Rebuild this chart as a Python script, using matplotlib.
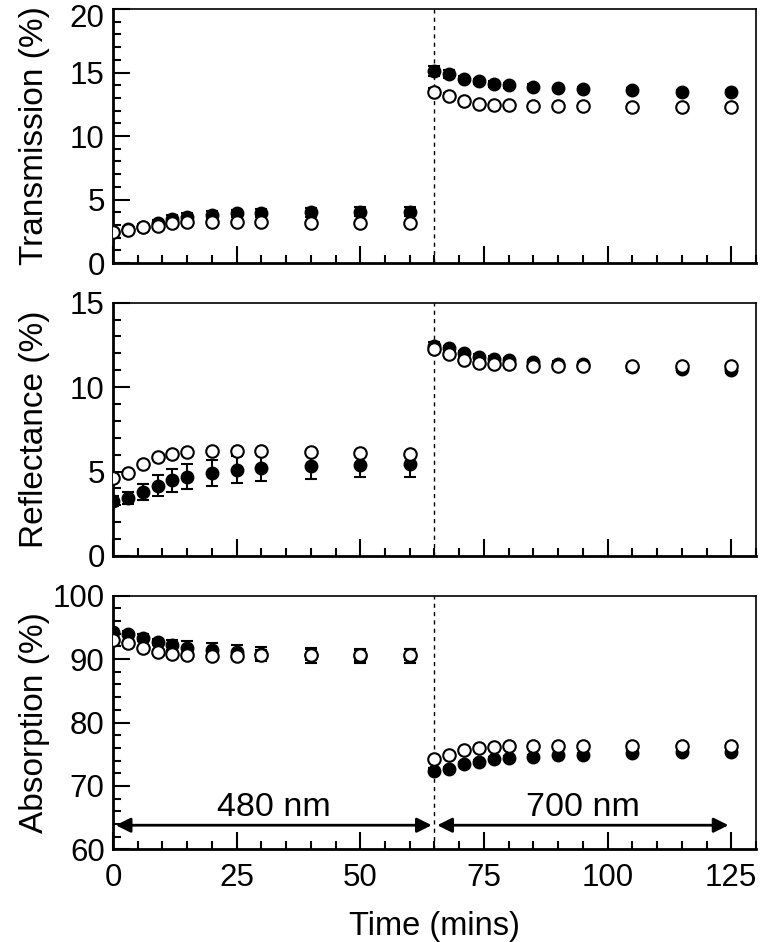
import matplotlib
matplotlib.use('Agg')
import matplotlib.pyplot as plt
from matplotlib.ticker import MultipleLocator
from matplotlib.transforms import ScaledTranslation
import numpy as np

plt.rcParams['font.family'] = ['Liberation Sans', 'DejaVu Sans']

# tiempos (min)
time = [0, 3, 6, 9, 12, 15, 20, 25, 30, 40, 50, 60,
        65, 68, 71, 74, 77, 80, 85, 90, 95, 105, 115, 125]

# Transmision
trans_fill = [2.45, 2.65, 2.85, 3.15, 3.45, 3.6, 3.8, 3.9, 3.95, 4.0, 4.05, 4.05,
              15.15, 14.9, 14.5, 14.3, 14.1, 14.0, 13.9, 13.75, 13.7, 13.6, 13.5, 13.45]
trans_fill_err = [0.1, 0.15, 0.2, 0.25, 0.3, 0.3, 0.3, 0.3, 0.3, 0.35, 0.35, 0.35,
                  0.4, 0.3, 0.2, 0.2, 0.2, 0.2, 0.2, 0.15, 0.15, 0.15, 0.15, 0.15]
trans_open = [2.42, 2.6, 2.8, 2.95, 3.12, 3.2, 3.25, 3.22, 3.2, 3.15, 3.15, 3.12,
              13.5, 13.15, 12.75, 12.52, 12.47, 12.42, 12.36, 12.34, 12.34, 12.31, 12.31, 12.31]
trans_open_err = [0.05] * 12 + [0.3, 0.2, 0.15, 0.1, 0.1, 0.1, 0.1, 0.1, 0.1, 0.1, 0.1, 0.1]

# Reflectancia
refl_fill = [3.25, 3.43, 3.8, 4.17, 4.47, 4.69, 4.94, 5.1, 5.22, 5.34, 5.4, 5.43,
             12.46, 12.3, 12.0, 11.81, 11.68, 11.58, 11.46, 11.38, 11.34, 11.18, 11.08, 11.03]
refl_fill_err = [0.3, 0.35, 0.49, 0.61, 0.69, 0.73, 0.77, 0.8, 0.79, 0.77, 0.75, 0.74,
                 0.2, 0.15, 0.15, 0.15, 0.15, 0.15, 0.15, 0.15, 0.15, 0.2, 0.2, 0.2]
refl_open = [4.6, 4.92, 5.45, 5.85, 6.06, 6.16, 6.24, 6.24, 6.22, 6.14, 6.08, 6.02,
             12.25, 11.97, 11.58, 11.42, 11.36, 11.34, 11.24, 11.22, 11.24, 11.24, 11.26, 11.26]
refl_open_err = [0.05] * 24

# Absorcion
abs_fill = [94.2, 94.0, 93.4, 92.7, 92.2, 91.8, 91.4, 91.1, 90.8, 90.6, 90.5, 90.5,
            72.4, 72.7, 73.4, 73.8, 74.2, 74.35, 74.55, 74.8, 74.9, 75.2, 75.3, 75.3]
abs_fill_err = [0.3, 0.4, 0.5, 0.5, 0.8, 1.0, 1.1, 1.1, 1.1, 1.15, 1.1, 1.1,
                0.4, 0.3, 0.3, 0.3, 0.3, 0.3, 0.3, 0.3, 0.3, 0.3, 0.3, 0.3]
abs_open = [93.0, 92.6, 91.7, 91.1, 90.8, 90.6, 90.5, 90.5, 90.6, 90.7, 90.6, 90.7,
            74.2, 74.9, 75.6, 76.0, 76.15, 76.25, 76.35, 76.35, 76.35, 76.35, 76.35, 76.35]
abs_open_err = [0.2, 0.2, 0.2, 0.2, 0.2, 0.2, 0.3, 0.5, 0.8, 0.9, 0.9, 0.9,
                0.2, 0.1, 0.1, 0.1, 0.1, 0.1, 0.1, 0.1, 0.1, 0.1, 0.1, 0.1]

paneles = [
    ('Transmission (%)', trans_fill, trans_fill_err, trans_open, trans_open_err, (0, 20), 5, 1),
    ('Reflectance (%)', refl_fill, refl_fill_err, refl_open, refl_open_err, (0, 15), 5, 1),
    ('Absorption (%)', abs_fill, abs_fill_err, abs_open, abs_open_err, (60, 100), 10, 2),
]

fig = plt.figure(figsize=(7.6, 9.42), dpi=100)
posiciones = [[0.1487, 0.7208, 0.846, 0.2696],
              [0.1487, 0.4098, 0.846, 0.2689],
              [0.1487, 0.0984, 0.846, 0.2692]]

ejes = []
for pos, (label, yf, ef, yo, eo, ylim, mayor, menor) in zip(posiciones, paneles):
    ax = fig.add_axes(pos)
    ax.axvline(65, color='k', lw=1.0, ls=(0, (3, 3)), zorder=1)
    ax.errorbar(time, yf, yerr=ef, fmt='o', color='k', mfc='k', mec='k',
                ms=9, elinewidth=1.5, capsize=4, capthick=1.5, zorder=3)
    ax.errorbar(time, yo, yerr=eo, fmt='o', color='k', mfc='white', mec='k',
                ms=9, mew=1.5, elinewidth=1.5, capsize=4, capthick=1.5, zorder=4)
    ax.set_xlim(0, 130)
    ax.set_ylim(*ylim)
    ax.xaxis.set_major_locator(MultipleLocator(25))
    ax.xaxis.set_minor_locator(MultipleLocator(5))
    ax.yaxis.set_major_locator(MultipleLocator(mayor))
    ax.yaxis.set_minor_locator(MultipleLocator(menor))
    ax.tick_params(which='both', direction='in', top=False, right=False, width=1.5)
    ax.tick_params(which='major', length=12, labelsize=22.5, pad=6)
    ax.tick_params(axis='x', which='major', pad=10)
    ax.tick_params(which='minor', length=6)
    ax.spines['left'].set_linewidth(2)
    ax.spines['bottom'].set_linewidth(2)
    ax.spines['top'].set_linewidth(1.2)
    ax.spines['right'].set_linewidth(1.2)
    ax.set_ylabel(label, fontsize=24)
    ax.yaxis.set_label_coords(-0.098, 0.5)
    ejes.append(ax)

for ax in ejes[:2]:
    ax.tick_params(labelbottom=False)

# el "20" de arriba un poco mas abajo para que no se corte
fig.canvas.draw()
for tk in ejes[0].yaxis.get_major_ticks():
    if abs(tk.get_loc() - 20) < 1e-6:
        tk.label1.set_transform(tk.label1.get_transform()
                                + ScaledTranslation(0, -5 / 72, fig.dpi_scale_trans))

ax = ejes[2]
ax.set_xlabel('Time (mins)', fontsize=23.5)
ax.xaxis.set_label_coords(0.5, -0.305)
ax.xaxis.label.set_va('center')
ax.annotate('', xy=(0, 63.8), xytext=(65, 63.8),
            arrowprops=dict(arrowstyle='<|-|>', color='k', lw=2, mutation_scale=22))
ax.annotate('', xy=(65, 63.8), xytext=(125, 63.8),
            arrowprops=dict(arrowstyle='<|-|>', color='k', lw=2, mutation_scale=22))
ax.text(32.5, 66.6, '480 nm', fontsize=24.5, ha='center', va='center')
ax.text(95, 66.6, '700 nm', fontsize=24.5, ha='center', va='center')

fig.savefig('out.png', dpi=100)
